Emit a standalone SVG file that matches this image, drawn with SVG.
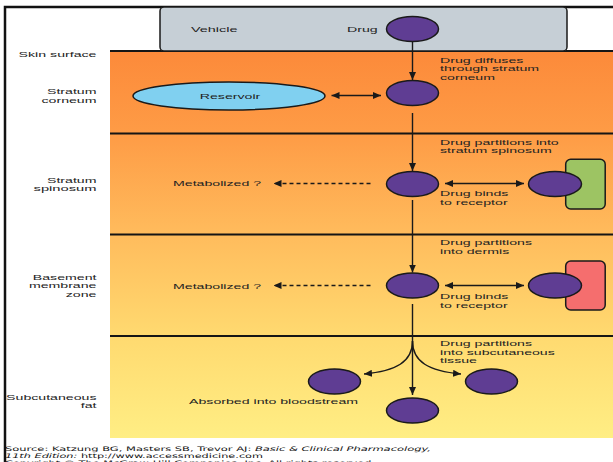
<svg xmlns="http://www.w3.org/2000/svg" width="613" height="462" viewBox="0 0 613 462">
<style>
.t{font-family:"Liberation Sans",Arial,sans-serif;font-size:8px;fill:#222}
.e{text-anchor:end}
.m{text-anchor:middle}
.f{font-family:"DejaVu Sans","Liberation Sans",sans-serif;font-size:6.2px;fill:#111}
.drug{fill:#5F3D93;stroke:#1a1a1a;stroke-width:1.5}
.lay{stroke:#151515;stroke-width:2;fill:none}
.c{stroke:#1a1a1a;stroke-width:1.4;fill:none}
.d{stroke-dasharray:4 3}
</style>
<defs>
<linearGradient id="skin" x1="0" y1="51" x2="0" y2="438" gradientUnits="userSpaceOnUse">
<stop offset="0" stop-color="#FC8A3A"/>
<stop offset="0.22" stop-color="#FE9C46"/>
<stop offset="0.47" stop-color="#FFBB5C"/>
<stop offset="0.74" stop-color="#FFDA70"/>
<stop offset="1" stop-color="#FFEE84"/>
</linearGradient>
<marker id="ah" viewBox="0 0 8 7" refX="8" refY="3.5" markerWidth="8" markerHeight="7" markerUnits="userSpaceOnUse" orient="auto-start-reverse">
<path d="M0,0 L8,3.5 L0,7 z" fill="#1a1a1a"/>
</marker>
</defs>

<rect x="0" y="0" width="613" height="462" fill="#fff"/>
<g id="layers">
<rect x="110" y="51" width="503" height="387" fill="url(#skin)"/>
<line class="lay" x1="110" y1="51" x2="613" y2="51"/>
<line class="lay" x1="110" y1="133.5" x2="613" y2="133.5"/>
<line class="lay" x1="110" y1="234.5" x2="613" y2="234.5"/>
<line class="lay" x1="110" y1="336" x2="613" y2="336"/>
</g>
<path d="M5,462 V7 H613" fill="none" stroke="#111" stroke-width="2.5"/>

<g id="vehicle">
<rect x="160" y="7" width="407" height="44" rx="4" fill="#C6CFD6" stroke="#1a1a1a" stroke-width="1.5"/>
<text class="t" x="191" y="32" textLength="46.4" lengthAdjust="spacingAndGlyphs">Vehicle</text>
<text class="t" x="347" y="32" textLength="30.7" lengthAdjust="spacingAndGlyphs">Drug</text>
</g>

<g id="layer-labels">
<text class="t e" x="96.5" y="56.5" textLength="77.9" lengthAdjust="spacingAndGlyphs">Skin surface</text>
<text class="t e" x="96.5" y="94" textLength="49.5" lengthAdjust="spacingAndGlyphs">Stratum</text>
<text class="t e" x="96.5" y="103" textLength="55" lengthAdjust="spacingAndGlyphs">corneum</text>
<text class="t e" x="96.5" y="183" textLength="49.5" lengthAdjust="spacingAndGlyphs">Stratum</text>
<text class="t e" x="96.5" y="191.3" textLength="62.9" lengthAdjust="spacingAndGlyphs">spinosum</text>
<text class="t e" x="96.5" y="279.7" textLength="63.7" lengthAdjust="spacingAndGlyphs">Basement</text>
<text class="t e" x="96.5" y="288.2" textLength="67.6" lengthAdjust="spacingAndGlyphs">membrane</text>
<text class="t e" x="96.5" y="296.7" textLength="30.7" lengthAdjust="spacingAndGlyphs">zone</text>
<text class="t e" x="96.5" y="399.5" textLength="90.4" lengthAdjust="spacingAndGlyphs">Subcutaneous</text>
<text class="t e" x="96.5" y="408" textLength="15.7" lengthAdjust="spacingAndGlyphs">fat</text>
</g>

<g id="connectors">
<line class="c" x1="412.5" y1="42" x2="412.5" y2="80" marker-end="url(#ah)"/>
<line class="c" x1="412.5" y1="113" x2="412.5" y2="171" marker-end="url(#ah)"/>
<line class="c" x1="412.5" y1="200" x2="412.5" y2="272.5" marker-end="url(#ah)"/>
<line class="c" x1="412.5" y1="304" x2="412.5" y2="395" marker-end="url(#ah)"/>
<path class="c" d="M412.5,341 C412.5,362 396,371 364,374" marker-end="url(#ah)"/>
<path class="c" d="M412.5,341 C412.5,362 429,371 461,374" marker-end="url(#ah)"/>
<line class="c" x1="331.5" y1="95.5" x2="381" y2="95.5" marker-start="url(#ah)" marker-end="url(#ah)"/>
<line class="c d" x1="370.5" y1="183.5" x2="273.5" y2="183.5" marker-end="url(#ah)"/>
<line class="c d" x1="370.5" y1="285.5" x2="273.5" y2="285.5" marker-end="url(#ah)"/>
<line class="c" x1="445" y1="183.5" x2="524" y2="183.5" marker-start="url(#ah)" marker-end="url(#ah)"/>
<line class="c" x1="445" y1="285.5" x2="524" y2="285.5" marker-start="url(#ah)" marker-end="url(#ah)"/>
</g>

<g id="drug-vehicle"><ellipse class="drug" cx="412.5" cy="29" rx="26" ry="12.5"/></g>
<g id="reservoir">
<ellipse cx="229" cy="96" rx="96" ry="14" fill="#80D0F0" stroke="#1a1a1a" stroke-width="1.5"/>
<text class="t m" x="230" y="99" textLength="60.5" lengthAdjust="spacingAndGlyphs">Reservoir</text>
</g>
<g id="drug-corneum"><ellipse class="drug" cx="412.5" cy="93" rx="26" ry="12.5"/></g>
<g id="drug-spinosum"><ellipse class="drug" cx="412.5" cy="184" rx="26" ry="12.5"/></g>
<g id="receptor-green">
<rect x="565.7" y="159.3" width="39.5" height="49.7" rx="5" fill="#9DC463" stroke="#1a1a1a" stroke-width="1.5"/>
<ellipse class="drug" cx="555" cy="184" rx="26.5" ry="12.5"/>
</g>
<g id="drug-basement"><ellipse class="drug" cx="412.5" cy="285.5" rx="26" ry="12.5"/></g>
<g id="receptor-red">
<rect x="565.7" y="261" width="39.5" height="49" rx="5" fill="#F56E6E" stroke="#1a1a1a" stroke-width="1.5"/>
<ellipse class="drug" cx="555" cy="285.5" rx="26.5" ry="12.5"/>
</g>
<g id="drug-sub-left"><ellipse class="drug" cx="334.5" cy="381.5" rx="26" ry="12.5"/></g>
<g id="drug-sub-right"><ellipse class="drug" cx="491.5" cy="381.5" rx="26" ry="12.5"/></g>
<g id="drug-blood"><ellipse class="drug" cx="412.5" cy="410.5" rx="26" ry="12.5"/></g>

<g id="labels">
<text class="t" x="440" y="63" textLength="83.4" lengthAdjust="spacingAndGlyphs">Drug diffuses</text>
<text class="t" x="440" y="71.3" textLength="99.1" lengthAdjust="spacingAndGlyphs">through stratum</text>
<text class="t" x="440" y="79.6" textLength="55" lengthAdjust="spacingAndGlyphs">corneum</text>
<text class="t" x="440" y="144.7" textLength="118.7" lengthAdjust="spacingAndGlyphs">Drug partitions into</text>
<text class="t" x="440" y="153" textLength="111.7" lengthAdjust="spacingAndGlyphs">stratum spinosum</text>
<text class="t" x="173" y="186.3" textLength="88.1" lengthAdjust="spacingAndGlyphs">Metabolized ?</text>
<text class="t" x="440" y="196.3" textLength="68.4" lengthAdjust="spacingAndGlyphs">Drug binds</text>
<text class="t" x="440" y="204.7" textLength="67.6" lengthAdjust="spacingAndGlyphs">to receptor</text>
<text class="t" x="440" y="245.3" textLength="92" lengthAdjust="spacingAndGlyphs">Drug partitions</text>
<text class="t" x="440" y="253.7" textLength="69.2" lengthAdjust="spacingAndGlyphs">into dermis</text>
<text class="t" x="173" y="288.7" textLength="88.1" lengthAdjust="spacingAndGlyphs">Metabolized ?</text>
<text class="t" x="440" y="299.2" textLength="68.4" lengthAdjust="spacingAndGlyphs">Drug binds</text>
<text class="t" x="440" y="307.5" textLength="67.6" lengthAdjust="spacingAndGlyphs">to receptor</text>
<text class="t" x="440" y="346.3" textLength="92" lengthAdjust="spacingAndGlyphs">Drug partitions</text>
<text class="t" x="440" y="354.7" textLength="114.8" lengthAdjust="spacingAndGlyphs">into subcutaneous</text>
<text class="t" x="440" y="363" textLength="37" lengthAdjust="spacingAndGlyphs">tissue</text>
<text class="t" x="189" y="403.7" textLength="169.1" lengthAdjust="spacingAndGlyphs">Absorbed into bloodstream</text>
</g>

<g id="footer">
<text class="f" x="5" y="451" textLength="426" lengthAdjust="spacingAndGlyphs">Source: Katzung BG, Masters SB, Trevor AJ: <tspan font-style="italic">Basic &amp; Clinical Pharmacology,</tspan></text>
<text class="f" x="5" y="457.5" textLength="258" lengthAdjust="spacingAndGlyphs"><tspan font-style="italic">11th Edition:</tspan> http://www.accessmedicine.com</text>
<text class="f" x="5" y="465" textLength="370" lengthAdjust="spacingAndGlyphs">Copyright © The McGraw-Hill Companies, Inc. All rights reserved.</text>
</g>
</svg>
